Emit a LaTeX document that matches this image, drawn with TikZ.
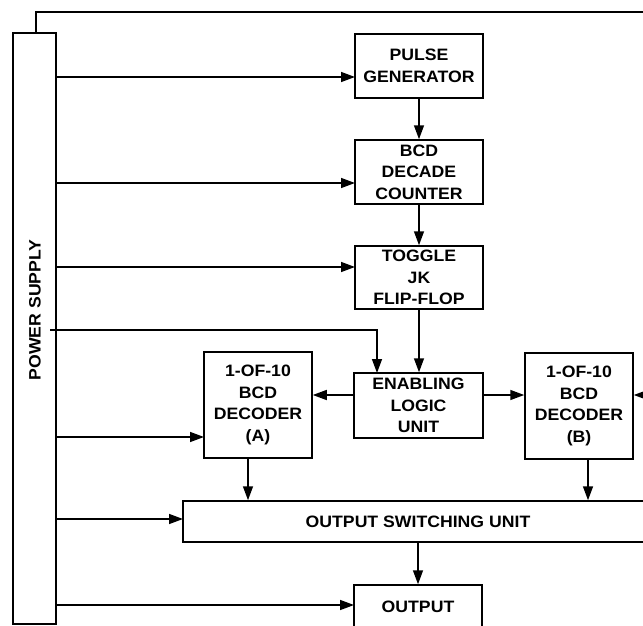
\documentclass[tikz,border=0pt]{standalone}
\usepackage{fontspec}
\setmainfont[FakeStretch=1.07]{Liberation Sans}
\usetikzlibrary{arrows.meta,positioning}

\begin{document}
\begin{tikzpicture}[x=1pt,y=-1pt,line width=1.5pt,
                    every node/.style={font=\fontsize{16.5}{21.5}\selectfont\bfseries,align=center,inner sep=0pt},
                    block/.style={draw,minimum width=128pt,minimum height=64pt},
                    decoder/.style={block,minimum width=108pt,minimum height=106pt},
                    arr/.style={-{Triangle[length=14pt,width=10pt]}}]
  \useasboundingbox (0,0) rectangle (643,626);
  \clip (0,0) rectangle (643,626);
  \node[draw,minimum width=43pt,minimum height=591pt] (ps) at (34.5,328.5) {};
  \node[rotate=90] (pslabel) at (35,310) {POWER SUPPLY};
  \node[block] (pg) at (419,66) {PULSE\\GENERATOR};
  \node[block] (cnt) at (419,172) {BCD\\DECADE\\COUNTER};
  \node[block,minimum height=63pt] (ff) at (419,277.5) {TOGGLE\\JK\\FLIP-FLOP};
  \node[block,minimum width=129pt,minimum height=65pt] (el) at (418.5,405.5) {ENABLING\\LOGIC\\UNIT};
  \node[decoder] (da) at (258,405) {1-OF-10\\BCD\\DECODER\\(A)};
  \node[decoder] (db) at (579,406) {1-OF-10\\BCD\\DECODER\\(B)};
  \node[block,minimum width=470pt,minimum height=41pt] (osu) at (418,521.5) {OUTPUT SWITCHING UNIT};
  \node[block,minimum height=44pt] (out) at (418,607) {OUTPUT};
  % tap points
  \coordinate (top) at (36,12);
  \coordinate (rim) at (660,395);
  \coordinate (tap) at (50,330);
  \coordinate (pgin) at (355,77);
  \coordinate (cntin) at (355,183);
  \coordinate (ffin) at (355,267);
  \coordinate (elin) at (377,373);
  \coordinate (elmid) at (418,395);
  \coordinate (dain) at (204,437);
  \coordinate (daout) at (248,458);
  \coordinate (dbout) at (588,459);
  \coordinate (osuin) at (183,519);
  \coordinate (outin) at (354,605);
  % supply lines
  \draw (ps.north -| top) -- (top) -- (rim |- top);
  \draw[arr] (ps.east |- pgin) -- (pgin);
  \draw[arr] (ps.east |- cntin) -- (cntin);
  \draw[arr] (ps.east |- ffin) -- (ffin);
  \draw[arr] (tap) -| (elin);
  \draw[arr] (ps.east |- dain) -- (dain);
  \draw[arr] (ps.east |- osuin) -- (osuin);
  \draw[arr] (ps.east |- outin) -- (outin);
  \draw[arr] (rim) -- (db.east |- rim);
  % signal chain
  \draw[arr] (pg) -- (cnt);
  \draw[arr] (cnt) -- (ff);
  \draw[arr] (ff.south) -- (ff.south |- el.north);
  \draw[arr] (el.west |- elmid) -- (da.east |- elmid);
  \draw[arr] (el.east |- elmid) -- (db.west |- elmid);
  \draw[arr] (daout) -- (daout |- osu.north);
  \draw[arr] (dbout) -- (dbout |- osu.north);
  \draw[arr] (osu.south -| out) -- (out.north);
\end{tikzpicture}
\end{document}
